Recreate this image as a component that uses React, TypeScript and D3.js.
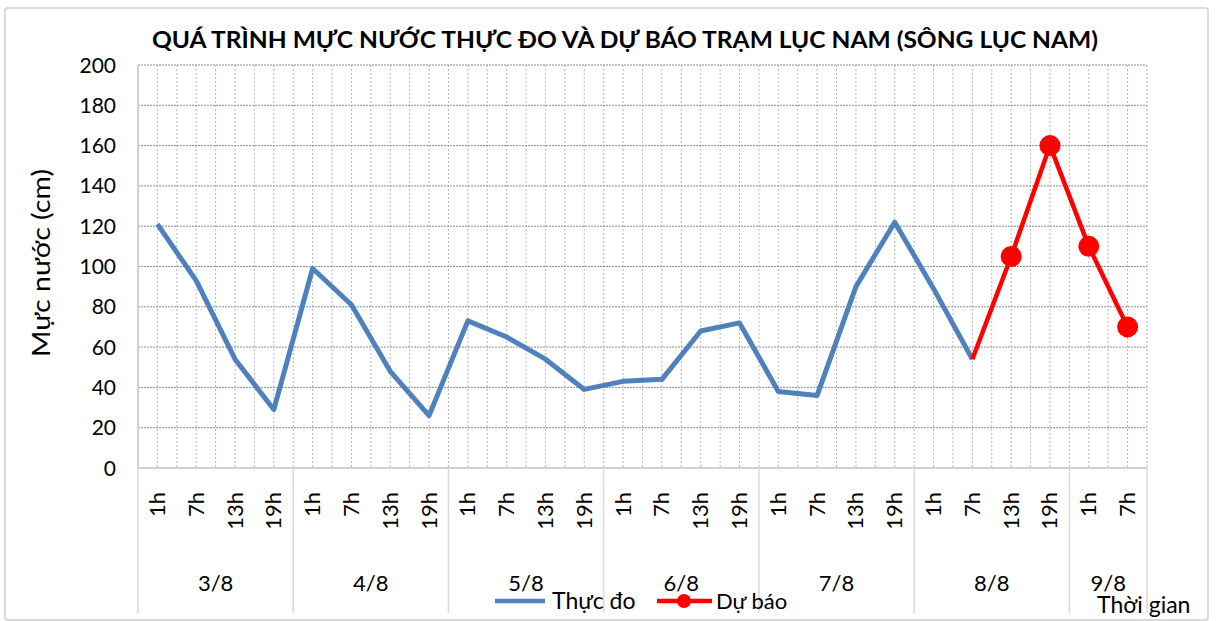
import React from "react";
import * as d3 from "d3";

const title = "QUÁ TRÌNH MỰC NƯỚC THỰC ĐO VÀ DỰ BÁO TRẠM LỤC NAM (SÔNG LỤC NAM)";
const days = ["3/8", "4/8", "5/8", "6/8", "7/8", "8/8", "9/8"];
const hoursPerDay = [
  ["1h", "7h", "13h", "19h"],
  ["1h", "7h", "13h", "19h"],
  ["1h", "7h", "13h", "19h"],
  ["1h", "7h", "13h", "19h"],
  ["1h", "7h", "13h", "19h"],
  ["1h", "7h", "13h", "19h"],
  ["1h", "7h"],
];
const observed = [121, 93, 54, 29, 99, 81, 48, 26, 73, 65, 54, 39, 43, 44, 68, 72, 38, 36, 90, 122, 89, 54];
const forecastStart = 21;
const forecast = [54, 105, 160, 110, 70];
const yTicks = [0, 20, 40, 60, 80, 100, 120, 140, 160, 180, 200];
const seriesNames = ["Thực đo", "Dự báo"];
const yTitle = "Mực nước (cm)";
const xTitle = "Thời gian";

const W = 1221, H = 621;
const L = 138, R = 1147, T = 65, B = 468;
const SANS = "Lato, 'Noto Sans', sans-serif";

export default function App() {
  const cats: { hour: string; day: number; idx: number }[] = [];
  hoursPerDay.forEach((hs, d) => hs.forEach((h) => cats.push({ hour: h, day: d, idx: cats.length })));
  const x = d3.scaleBand<number>().domain(cats.map((c) => c.idx)).range([L, R]).padding(0);
  const bw = x.bandwidth();
  const cx = (i: number) => (x(i) as number) + bw / 2;
  const y = d3.scaleLinear().domain([0, 200]).range([B, T]);

  const line = d3.line<[number, number]>().x((d) => cx(d[0])).y((d) => y(d[1]));
  const obsPts: [number, number][] = observed.map((v, i) => [i, v]);
  const fcPts: [number, number][] = forecast.map((v, i) => [forecastStart + i, v]);

  const groupEdges: number[] = [];
  let acc = 0;
  groupEdges.push(acc);
  hoursPerDay.forEach((hs) => {
    acc += hs.length;
    groupEdges.push(acc);
  });
  const edgeX = (k: number) => (k >= cats.length ? R : (x(k) as number));

  const vGrid: number[] = [];
  for (let k = 1; k <= cats.length * 2; k++) vGrid.push(L + (k * bw) / 2);

  return (
    <svg width={W} height={H} style={{ position: "absolute", left: 0, top: 0, background: "#fff" }}>
      <rect x={5} y={8} width={1203} height={612} fill="#fff" stroke="#d9d9d9" strokeWidth={2} rx={3} />
      <text x={625} y={48} textAnchor="middle" fontFamily={SANS} fontWeight="bold" fontSize={22}
        textLength={946} lengthAdjust="spacingAndGlyphs" fill="#000">{title}</text>

      {vGrid.map((gx, i) => (
        <line key={"v" + i} x1={gx} x2={gx} y1={T} y2={B} stroke="#b8b8b8" strokeWidth={1} strokeDasharray="2,2" />
      ))}
      {yTicks.filter((t) => t > 0).map((t) => (
        <line key={"h" + t} x1={L} x2={R} y1={y(t)} y2={y(t)} stroke="#8c8c8c" strokeWidth={1} strokeDasharray="2,1" />
      ))}

      <line x1={L} x2={L} y1={T} y2={B} stroke="#d0d0d0" strokeWidth={2} />
      <line x1={L} x2={R} y1={B} y2={B} stroke="#d0d0d0" strokeWidth={2} />
      {groupEdges.map((k, i) => (
        <line key={"g" + i} x1={edgeX(k)} x2={edgeX(k)} y1={B} y2={613} stroke="#d9d9d9" strokeWidth={1.5} />
      ))}

      {yTicks.map((t) => (
        <text key={"yt" + t} x={116} y={y(t) + 7.5} textAnchor="end" fontFamily={SANS} fontSize={21} fill="#000">{t}</text>
      ))}
      <text transform={`translate(50,263) rotate(-90)`} textAnchor="middle" fontFamily={SANS} fontSize={25}
        textLength={188} lengthAdjust="spacingAndGlyphs" fill="#000">{yTitle}</text>

      {cats.map((c) => (
        <text key={"xt" + c.idx} transform={`translate(${cx(c.idx) + 7.5},492) rotate(-90)`} textAnchor="end"
          fontFamily={SANS} fontSize={22} fill="#000">{c.hour}</text>
      ))}
      {days.map((d, i) => (
        <text key={"d" + i} x={(edgeX(groupEdges[i]) + edgeX(groupEdges[i + 1])) / 2} y={591} textAnchor="middle"
          fontFamily={SANS} fontSize={22} fill="#000">{d}</text>
      ))}

      <path d={line(obsPts) || ""} fill="none" stroke="#4f81bd" strokeWidth={5} strokeLinejoin="round" />
      <path d={line(fcPts) || ""} fill="none" stroke="#ff0000" strokeWidth={4.5} strokeLinejoin="round" />
      {fcPts.slice(1).map((p, i) => (
        <circle key={"m" + i} cx={cx(p[0])} cy={y(p[1])} r={10.5} fill="#ff0000" />
      ))}

      <line x1={495} x2={545} y1={601} y2={601} stroke="#4f81bd" strokeWidth={4.5} />
      <text x={552} y={609} fontFamily={SANS} fontSize={23} fill="#000">{seriesNames[0]}</text>
      <line x1={657} x2={712} y1={601} y2={601} stroke="#ff0000" strokeWidth={4.5} />
      <circle cx={684} cy={601} r={7} fill="#ff0000" />
      <text x={716} y={609} fontFamily={SANS} fontSize={22} fill="#000">{seriesNames[1]}</text>

      <text x={1097} y={613} fontFamily={SANS} fontSize={23} fill="#000">{xTitle}</text>
    </svg>
  );
}
